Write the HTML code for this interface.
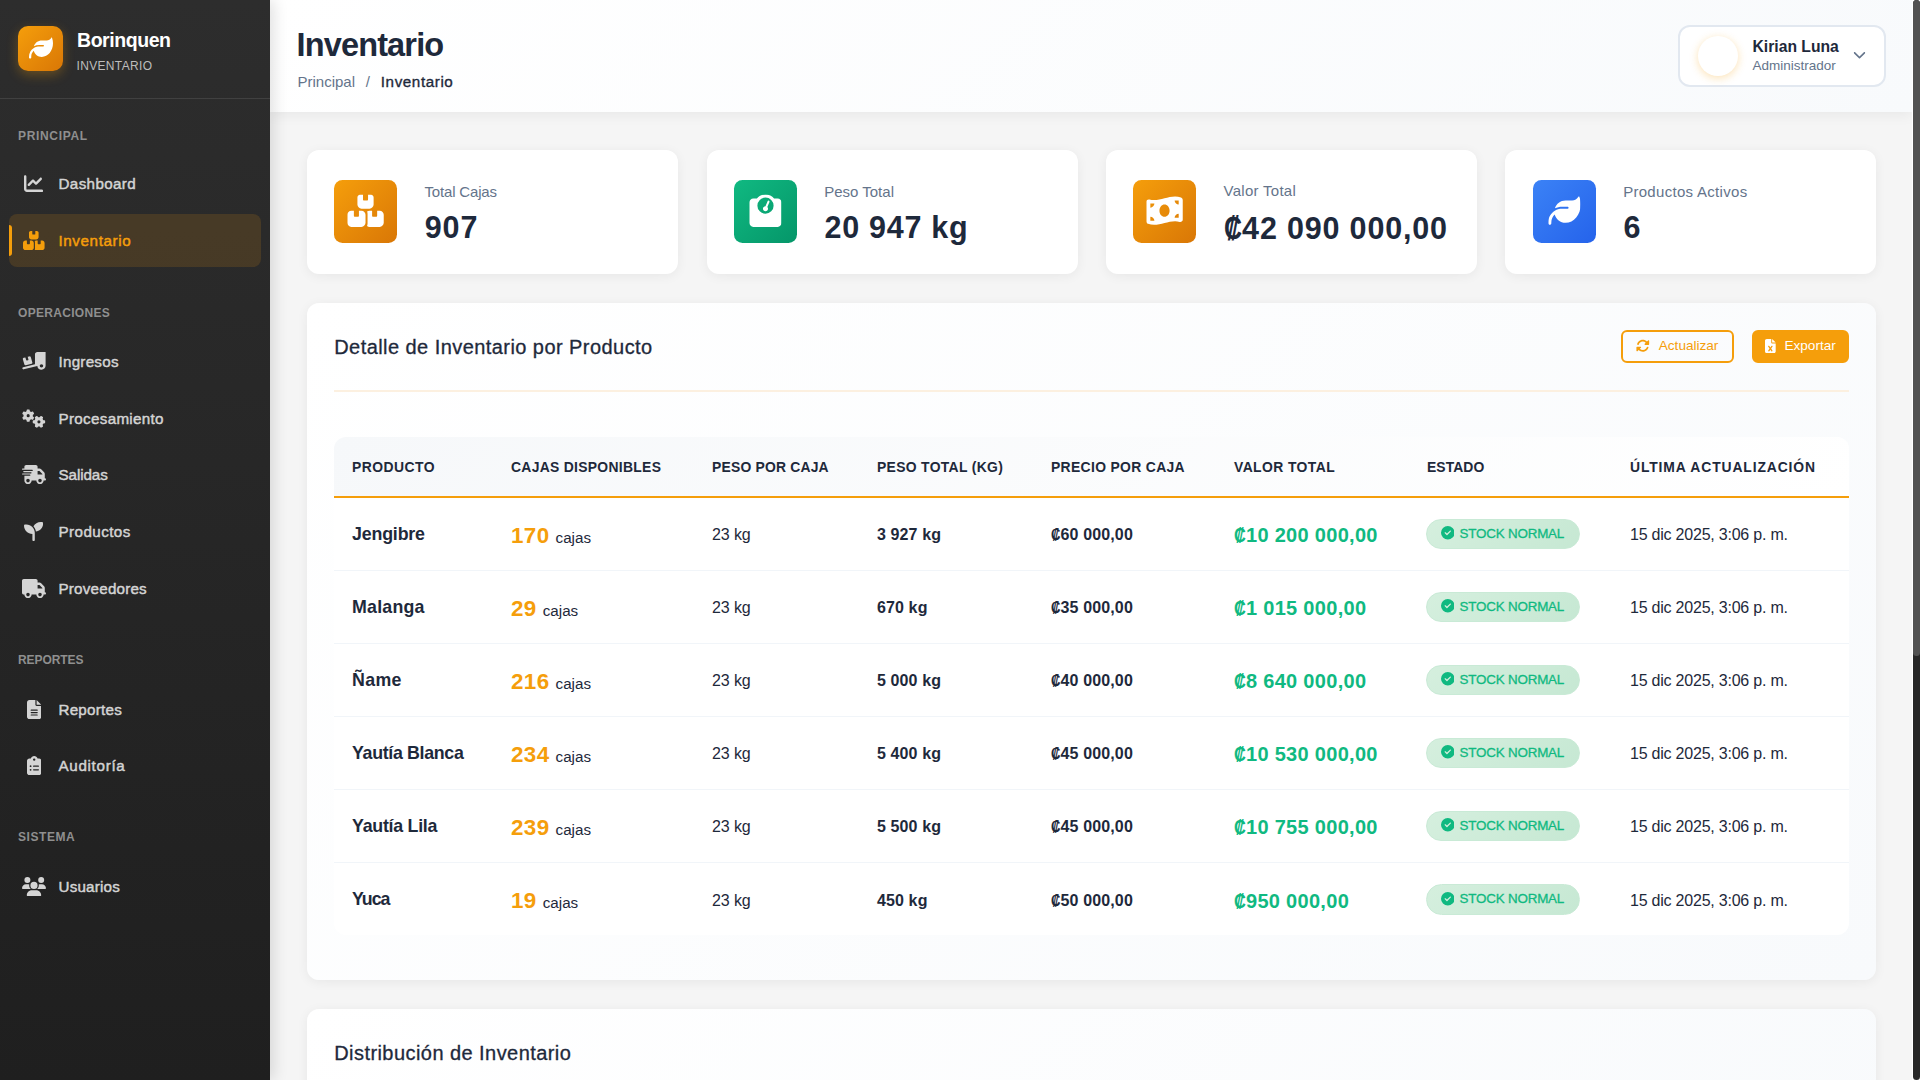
<!DOCTYPE html>
<html lang="es">
<head>
<meta charset="utf-8">
<title>Inventario - Borinquen</title>
<style>
*{box-sizing:border-box;margin:0;padding:0}
html,body{width:1920px;height:1080px;overflow:hidden}
body{font-family:"Liberation Sans",sans-serif;background:#f5f5f5;color:#1e293b;position:relative;font-size:16px}
svg{display:block}
/* ---------- sidebar ---------- */
.sb{position:absolute;left:0;top:0;width:270px;height:1080px;background:linear-gradient(180deg,#2d2d2d 0%,#1f1f1f 100%);box-shadow:4px 0 14px rgba(0,0,0,.12);z-index:5;color:#fff}
.sb-head{position:absolute;left:0;top:0;width:270px;height:99px;border-bottom:1px solid rgba(255,255,255,.1)}
.logo{position:absolute;left:18px;top:26px;width:45px;height:45px;border-radius:10px;background:linear-gradient(135deg,#f59e0b 0%,#d97706 100%);box-shadow:0 4px 12px rgba(245,158,11,.3)}
.logo svg{position:absolute;left:10.7px;top:10.3px;width:24px;height:24px}
.brand{position:absolute;left:77px;top:27px;font-size:19.5px;font-weight:700;line-height:26px;letter-spacing:-.44px;color:#fff;white-space:nowrap}
.brand-sub{position:absolute;left:76.5px;top:58.1px;font-size:12px;line-height:16px;letter-spacing:.34px;color:#bdbdbd;white-space:nowrap}
.sec{position:absolute;left:18px;font-size:12px;font-weight:700;line-height:16px;letter-spacing:.55px;color:#8f8f8f;white-space:nowrap}
.ni{position:absolute;left:9px;width:252px;height:53px;border-radius:8px;color:#d4d4d4}
.ni .ic{position:absolute;left:12.8px;top:0;width:24px;height:53px;display:flex;align-items:center;justify-content:center}
.ni .ic svg{height:19.2px;width:auto;fill:currentColor}
.ni .tx{position:absolute;left:49.5px;top:15.1px;font-size:15.2px;font-weight:400;line-height:24px;letter-spacing:0;white-space:nowrap;-webkit-text-stroke:.45px currentColor}
.ni.act{background:rgba(245,158,11,.14);color:#f59e0b}
.ni.act:before{content:"";position:absolute;left:0;top:10.6px;width:3px;height:31.8px;background:#f59e0b;border-radius:0 3px 3px 0}
/* ---------- header ---------- */
.hd{position:absolute;left:270px;top:0;width:1642px;height:112px;background:linear-gradient(135deg,#ffffff 0%,#f8fafc 100%);box-shadow:0 4px 12px rgba(0,0,0,.05);z-index:3}
.hd h1{position:absolute;left:26.5px;top:25px;font-size:32.5px;font-weight:700;line-height:40px;letter-spacing:-.85px;color:#1e293b;white-space:nowrap}
.bc{position:absolute;left:27.5px;top:71.7px;font-size:15px;line-height:20px;color:#64748b;white-space:nowrap}
.bc .sep{margin:0 10.8px 0 10.8px}
.bc b{color:#1e293b;font-weight:400;font-size:15.2px;letter-spacing:.59px;-webkit-text-stroke:.35px #1e293b}
.user{position:absolute;left:1408px;top:25px;width:208px;height:62px;border:2px solid #e2e8f0;border-radius:12px;background:#fff}
.avatar{position:absolute;left:18px;top:9px;width:40px;height:40px;border-radius:50%;background:#fff;box-shadow:0 2px 8px rgba(245,158,11,.3)}
.uname{position:absolute;left:72.5px;top:10px;font-size:15.7px;font-weight:700;line-height:20px;color:#1e293b;white-space:nowrap}
.urole{position:absolute;left:72.5px;top:30px;font-size:13.5px;line-height:18px;color:#64748b;white-space:nowrap}
.chev{position:absolute;left:173px;top:21.3px;width:13px;height:13px;fill:#64748b}
/* ---------- content ---------- */
.stat{position:absolute;top:150px;width:371px;height:124px;background:#fff;border-radius:12px;box-shadow:0 2px 12px rgba(0,0,0,.06)}
.stat .ib{position:absolute;left:27.2px;top:30px;width:63px;height:63px;border-radius:8.5px;display:flex;align-items:center;justify-content:center}
.stat .ib svg{height:32.4px;width:auto;fill:#fff;transform:translate(.3px,-.5px)}
.ib.or{background:linear-gradient(135deg,#f59e0b 0%,#d97706 100%)}
.ib.gr{background:linear-gradient(135deg,#10b981 0%,#059669 100%)}
.ib.bl{background:linear-gradient(135deg,#3b82f6 0%,#2563eb 100%)}
.stat .lb{position:absolute;left:117.7px;top:31.6px;font-size:15px;line-height:20px;color:#64748b;white-space:nowrap}
.stat .vl{position:absolute;left:118px;top:57.2px;font-size:30.5px;font-weight:700;line-height:40px;color:#1e293b;white-space:nowrap}
.s1 .lb{letter-spacing:-.17px}.s1 .vl{letter-spacing:.85px}.s2 .vl{letter-spacing:.72px}.s3 .lb{letter-spacing:.27px;top:30.6px}.s3 .vl{letter-spacing:.82px;top:58.1px}.s4 .lb{letter-spacing:.3px}
.card{position:absolute;left:307px;width:1569px;background:linear-gradient(135deg,#ffffff 0%,#f8fafc 100%);border-radius:12px;box-shadow:0 2px 12px rgba(0,0,0,.06)}
.card h2{position:absolute;left:27.2px;font-size:20px;font-weight:400;line-height:26px;letter-spacing:.44px;color:#1e293b;white-space:nowrap;-webkit-text-stroke:.3px #1e293b}
.hr{position:absolute;left:27px;top:87px;width:1515px;height:2px;background:#fcf0e0}
.btn{position:absolute;top:27px;height:33px;border:2px solid #f59e0b;border-radius:6px;font-size:13.6px;line-height:29px;color:#f59e0b;white-space:nowrap;letter-spacing:-.02px}
.btn svg{position:absolute;fill:currentColor}
.btn span{position:absolute;top:-.8px}
.btn.fill{background:#f59e0b;color:#fff}
/* table */
.tw{position:absolute;left:27px;top:134px;width:1515px;height:498px;background:#fff;border-radius:12px;overflow:hidden}
table{border-collapse:separate;border-spacing:0;table-layout:fixed;width:1515px}
th{height:61px;padding:1.2px 0 0 18px;text-align:left;font-size:13.9px;font-weight:700;letter-spacing:.3px;color:#1e293b;white-space:nowrap;border-bottom:2px solid #f59e0b}
thead tr{background:linear-gradient(135deg,#f6f8fa 0%,#ffffff 100%)}
td{height:73px;padding:2.5px 0 0 18px;font-size:16px;color:#1e293b;white-space:nowrap;border-bottom:1px solid #f1f5f9;vertical-align:middle}
tr:last-child td{border-bottom:none}
td.pn{font-size:17.8px;font-weight:700;letter-spacing:0;padding-top:0}
td .num{font-size:22.4px;font-weight:700;color:#f59e0b;letter-spacing:.4px}
td .un{font-size:15.2px;color:#1e293b;margin-left:6px}
td.b{font-weight:700;font-size:16px;padding-top:2.8px}
td.pt{letter-spacing:.12px}
td.pc{letter-spacing:.13px}
td.dt{letter-spacing:-.22px}
td.kg{letter-spacing:-.1px}
td.cj{padding-top:3.2px}
td.st{padding-top:0}
td.tv{font-weight:700;font-size:20px;color:#10b981;padding-top:3.5px;letter-spacing:.3px}
.bdg{display:inline-block;position:relative;left:-1px;width:154px;height:30.5px;border-radius:16px;background:linear-gradient(135deg,#d5efde 0%,#c6e8d3 100%);border:1px solid #c9ead6;vertical-align:middle}
.bdg svg{position:absolute;left:13.7px;top:6.7px;width:13.6px;height:13.6px;fill:#10b981}
.bdg span{position:absolute;left:32.6px;top:0;font-size:13.4px;line-height:28.5px;color:#10b981;-webkit-text-stroke:.3px #10b981;letter-spacing:-.2px}
.col{display:inline-block;transform:scaleX(.82);transform-origin:0 50%;margin-right:-.125em;letter-spacing:0}
/* scrollbar */
.sbw{position:absolute;left:1912px;top:0;width:8px;height:1080px;background:#fff;z-index:9}
.sbt{position:absolute;left:1px;top:0;width:7px;height:1080px;background:#272727;border-radius:4px}
.sbh{position:absolute;left:1px;top:0;width:7px;height:655.5px;background:#525252;border-radius:4px}
</style>
</head>
<body>
<aside class="sb">
  <div class="sb-head">
    <div class="logo"><svg viewBox="0 0 512 512"><path fill="#fff" d="M272 96c-78.600 0-145.100 51.500-167.700 122.500c33.600-17 71.500-26.500 111.700-26.500h88c8.800 0 16 7.200 16 16s-7.200 16-16 16H216c-16.600 0-32.700 1.900-48.300 5.400c-25.900 5.900-49.900 16.400-71.400 30.700C38.300 298.800 0 364.900 0 440v16c0 13.300 10.700 24 24 24s24-10.700 24-24V440c0-48.700 20.700-92.500 53.800-123.200C121.600 392.300 190.300 448 272 448l1 0c132.100-.7 239-130.900 239-291.400c0-42.600-7.500-83.100-21.100-119.600c-2.600-6.900-12.700-6.600-16.200-.1C455.900 72.100 418.700 96 376 96L272 96z"/></svg></div>
    <div class="brand">Borinquen</div>
    <div class="brand-sub">INVENTARIO</div>
  </div>
  <nav id="nav">
    <div class="sec" style="top:128.3px;letter-spacing:0.66px">PRINCIPAL</div>
    <div class="ni" style="top:157.25px"><span class="ic"><svg viewBox="0 0 512 512"><path fill-rule="evenodd" d="M64 64c0-17.700-14.300-32-32-32S0 46.300 0 64V400c0 44.200 35.800 80 80 80H480c17.700 0 32-14.300 32-32s-14.300-32-32-32H80c-8.800 0-16-7.200-16-16V64zm406.600 86.600c12.500-12.500 12.500-32.800 0-45.300s-32.800-12.500-45.300 0L320 210.700l-57.400-57.400c-12.500-12.500-32.800-12.500-45.300 0l-112 112c-12.500 12.500-12.500 32.800 0 45.300s32.800 12.500 45.300 0L240 221.300l57.400 57.400c12.500 12.500 32.800 12.500 45.300 0l128-128z"/></svg></span><span class="tx" style="letter-spacing:0.36px">Dashboard</span></div>
    <div class="ni act" style="top:214px"><span class="ic"><svg viewBox="0 0 576 512"><path fill-rule="evenodd" d="M248 0H208c-26.500 0-48 21.500-48 48V160c0 35.300 28.700 64 64 64H352c35.300 0 64-28.700 64-64V48c0-26.500-21.500-48-48-48H328V80c0 8.800-7.200 16-16 16H264c-8.800 0-16-7.200-16-16V0zM64 256c-35.300 0-64 28.700-64 64V448c0 35.300 28.700 64 64 64H224c35.300 0 64-28.700 64-64V320c0-35.300-28.700-64-64-64H184v80c0 8.800-7.200 16-16 16H120c-8.800 0-16-7.200-16-16V256H64zM352 512H512c35.300 0 64-28.700 64-64V320c0-35.300-28.700-64-64-64H472v80c0 8.800-7.200 16-16 16H408c-8.800 0-16-7.200-16-16V256H352c-15 0-28.800 5.100-39.700 13.800c4.900 10.400 7.700 22 7.700 34.200V464c0 12.200-2.800 23.800-7.700 34.200C323.200 506.900 337 512 352 512z"/></svg></span><span class="tx" style="letter-spacing:0.6px">Inventario</span></div>
    <div class="sec" style="top:305.2px;letter-spacing:0.31px">OPERACIONES</div>
    <div class="ni" style="top:334.75px"><span class="ic"><svg viewBox="0 0 640 512" preserveAspectRatio="none" style="width:23.6px;height:17.7px"><path fill-rule="evenodd" d="M640 0V400c0 61.900-50.100 112-112 112c-61 0-110.500-48.700-112-109.300L48.400 502.900c-17.100 4.600-34.600-5.400-39.300-22.500s5.400-34.600 22.500-39.300L352 353.800V64c0-35.300 28.700-64 64-64H640zM576 400a48 48 0 1 0 -96 0 48 48 0 1 0 96 0zM23.100 207.700c-4.600-17.100 5.600-34.600 22.600-39.200l46.400-12.400 20.700 77.300c2.300 8.500 11.100 13.600 19.600 11.300l30.900-8.300c8.500-2.300 13.600-11.100 11.300-19.600l-20.700-77.300 46.400-12.400c17.100-4.600 34.600 5.600 39.200 22.600l41.400 154.500c4.600 17.100-5.600 34.600-22.600 39.200L103.700 384.900c-17.100 4.600-34.600-5.600-39.200-22.600L23.100 207.700z"/></svg></span><span class="tx" style="letter-spacing:0.25px">Ingresos</span></div>
    <div class="ni" style="top:391.5px"><span class="ic"><svg viewBox="0 0 640 512"><path fill-rule="evenodd" d="M289 204 L289 209 L289 215 L288 220 L292 226 L301 234 L313 244 L321 253 L321 261 L318 268 L315 274 L312 281 L309 287 L305 293 L301 299 L297 305 L292 311 L285 314 L273 312 L259 307 L248 303 L241 303 L236 306 L232 309 L227 311 L222 314 L217 316 L213 319 L209 325 L207 337 L205 352 L200 363 L194 367 L187 369 L179 369 L172 370 L165 370 L158 370 L151 369 L143 369 L136 367 L130 363 L125 352 L123 337 L121 325 L117 319 L113 316 L108 314 L103 311 L98 309 L94 306 L89 303 L82 303 L71 307 L57 312 L45 314 L38 311 L33 305 L29 299 L25 293 L21 287 L18 281 L15 274 L12 268 L9 261 L9 253 L17 244 L29 234 L38 226 L42 220 L41 215 L41 209 L41 204 L41 199 L41 193 L42 188 L38 182 L29 174 L17 164 L9 155 L9 147 L12 140 L15 134 L18 127 L21 121 L25 115 L29 109 L33 103 L38 97 L45 94 L57 96 L71 101 L82 105 L89 105 L94 102 L98 99 L103 97 L108 94 L113 92 L117 89 L121 83 L123 71 L125 56 L130 45 L136 41 L143 39 L151 39 L158 38 L165 38 L172 38 L179 39 L187 39 L194 41 L200 45 L205 56 L207 71 L209 83 L213 89 L217 92 L222 94 L227 97 L232 99 L236 102 L241 105 L248 105 L259 101 L273 96 L285 94 L292 97 L297 103 L301 109 L305 115 L309 121 L312 127 L315 134 L318 140 L321 147 L321 155 L313 164 L301 174 L292 182 L288 188 L289 193 L289 199ZM123 204a42 42 0 1 0 84 0a42 42 0 1 0 -84 0ZM618 369 L618 376 L617 383 L617 391 L615 398 L611 404 L600 409 L585 411 L573 413 L567 417 L564 421 L562 426 L559 431 L557 436 L554 440 L551 445 L551 452 L555 463 L560 477 L562 489 L559 496 L553 501 L547 505 L541 509 L535 513 L529 516 L522 519 L516 522 L509 525 L501 525 L492 517 L482 505 L474 496 L468 492 L463 493 L457 493 L452 493 L447 493 L441 493 L436 492 L430 496 L422 505 L412 517 L403 525 L395 525 L388 522 L382 519 L375 516 L369 513 L363 509 L357 505 L351 501 L345 496 L342 489 L344 477 L349 463 L353 452 L353 445 L350 440 L347 436 L345 431 L342 426 L340 421 L337 417 L331 413 L319 411 L304 409 L293 404 L289 398 L287 391 L287 383 L286 376 L286 369 L286 362 L287 355 L287 347 L289 340 L293 334 L304 329 L319 327 L331 325 L337 321 L340 317 L342 312 L345 307 L347 302 L350 298 L353 293 L353 286 L349 275 L344 261 L342 249 L345 242 L351 237 L357 233 L363 229 L369 225 L375 222 L382 219 L388 216 L395 213 L403 213 L412 221 L422 233 L430 242 L436 246 L441 245 L447 245 L452 245 L457 245 L463 245 L468 246 L474 242 L482 233 L492 221 L501 213 L509 213 L516 216 L522 219 L529 222 L535 225 L541 229 L547 233 L553 237 L559 242 L562 249 L560 261 L555 275 L551 286 L551 293 L554 298 L557 302 L559 307 L562 312 L564 317 L567 321 L573 325 L585 327 L600 329 L611 334 L615 340 L617 347 L617 355 L618 362ZM410 369a42 42 0 1 0 84 0a42 42 0 1 0 -84 0Z"/></svg></span><span class="tx" style="letter-spacing:0.31px">Procesamiento</span></div>
    <div class="ni" style="top:448.25px"><span class="ic"><svg viewBox="0 0 640 512"><path fill-rule="evenodd" d="M112 0C85.500 0 64 21.500 64 48V96H16c-8.800 0-16 7.200-16 16s7.200 16 16 16H64 272c8.800 0 16 7.200 16 16s-7.200 16-16 16H64 48c-8.800 0-16 7.200-16 16s7.200 16 16 16H64 240c8.800 0 16 7.200 16 16s-7.200 16-16 16H64 16c-8.800 0-16 7.200-16 16s7.200 16 16 16H64 208c8.800 0 16 7.200 16 16s-7.200 16-16 16H64V416c0 53 43 96 96 96s96-43 96-96H384c0 53 43 96 96 96s96-43 96-96h32c17.700 0 32-14.300 32-32s-14.300-32-32-32V288 256 237.300c0-17-6.700-33.300-18.700-45.300L512 114.700c-12-12-28.300-18.700-45.300-18.700H416V48c0-26.500-21.500-48-48-48H112zM544 237.300V256H416V160h50.700L544 237.300zM160 368a48 48 0 1 1 0 96 48 48 0 1 1 0-96zm272 48a48 48 0 1 1 96 0 48 48 0 1 1 -96 0z"/></svg></span><span class="tx" style="letter-spacing:-0.09px">Salidas</span></div>
    <div class="ni" style="top:505px"><span class="ic"><svg viewBox="0 0 512 512"><path fill-rule="evenodd" d="M512 32c0 113.600-84.600 207.500-194.200 222c-7.100-53.400-30.600-101.600-65.300-139.300C290.800 46.300 364 0 448 0h32c17.700 0 32 14.300 32 32zM0 96C0 78.300 14.300 64 32 64H64c123.700 0 224 100.300 224 224v32V480c0 17.700-14.300 32-32 32s-32-14.300-32-32V320C100.300 320 0 219.700 0 96z"/></svg></span><span class="tx" style="letter-spacing:0.42px">Productos</span></div>
    <div class="ni" style="top:561.75px"><span class="ic"><svg viewBox="0 0 640 512"><path fill-rule="evenodd" d="M48 0C21.500 0 0 21.500 0 48V368c0 26.500 21.500 48 48 48H64c0 53 43 96 96 96s96-43 96-96H384c0 53 43 96 96 96s96-43 96-96h32c17.700 0 32-14.300 32-32s-14.300-32-32-32V288 256 237.300c0-17-6.700-33.300-18.700-45.300L512 114.700c-12-12-28.300-18.700-45.300-18.700H416V48c0-26.500-21.500-48-48-48H48zM416 160h50.700L544 237.300V256H416V160zM112 416a48 48 0 1 1 96 0 48 48 0 1 1 -96 0zm368-48a48 48 0 1 1 0 96 48 48 0 1 1 0-96z"/></svg></span><span class="tx" style="letter-spacing:0.21px">Proveedores</span></div>
    <div class="sec" style="top:652.2px;letter-spacing:-0.07px">REPORTES</div>
    <div class="ni" style="top:682.7px"><span class="ic"><svg viewBox="0 0 384 512"><path fill-rule="evenodd" d="M64 0C28.700 0 0 28.700 0 64V448c0 35.300 28.700 64 64 64H320c35.300 0 64-28.700 64-64V160H256c-17.700 0-32-14.300-32-32V0H64zM256 0V128H384L256 0zM112 256H272c8.800 0 16 7.200 16 16s-7.200 16-16 16H112c-8.800 0-16-7.200-16-16s7.200-16 16-16zm0 64H272c8.800 0 16 7.200 16 16s-7.200 16-16 16H112c-8.800 0-16-7.200-16-16s7.200-16 16-16zm0 64H272c8.800 0 16 7.200 16 16s-7.200 16-16 16H112c-8.800 0-16-7.200-16-16s7.200-16 16-16z"/></svg></span><span class="tx" style="letter-spacing:0.23px">Reportes</span></div>
    <div class="ni" style="top:739.2px"><span class="ic"><svg viewBox="0 0 384 512"><path fill-rule="evenodd" d="M192 0c-41.800 0-77.400 26.700-90.500 64H64C28.700 64 0 92.700 0 128V448c0 35.300 28.700 64 64 64H320c35.300 0 64-28.700 64-64V128c0-35.300-28.700-64-64-64H282.500C269.400 26.700 233.800 0 192 0zm0 64a32 32 0 1 1 0 64 32 32 0 1 1 0-64zM72 272a24 24 0 1 1 48 0 24 24 0 1 1 -48 0zm104-16H304c8.800 0 16 7.200 16 16s-7.200 16-16 16H176c-8.800 0-16-7.200-16-16s7.200-16 16-16zM72 368a24 24 0 1 1 48 0 24 24 0 1 1 -48 0zm88 0c0-8.800 7.200-16 16-16H304c8.800 0 16 7.200 16 16s-7.200 16-16 16H176c-8.800 0-16-7.200-16-16z"/></svg></span><span class="tx" style="letter-spacing:0.68px">Auditoría</span></div>
    <div class="sec" style="top:829.3px;letter-spacing:0.57px">SISTEMA</div>
    <div class="ni" style="top:859.65px"><span class="ic"><svg viewBox="0 0 640 512"><path fill-rule="evenodd" d="M144 0a80 80 0 1 1 0 160A80 80 0 1 1 144 0zM512 0a80 80 0 1 1 0 160A80 80 0 1 1 512 0zM0 298.700C0 239.800 47.800 192 106.700 192h42.700c15.900 0 31 3.500 44.600 9.700c-1.300 7.200-1.900 14.700-1.900 22.300c0 38.200 16.800 72.500 43.300 96c-.2 0-.4 0-.7 0H21.300C9.600 320 0 310.400 0 298.700zM405.300 320c-.2 0-.4 0-.7 0c26.600-23.500 43.300-57.800 43.300-96c0-7.600-.7-15-1.900-22.300c13.600-6.300 28.700-9.700 44.600-9.700h42.700C592.200 192 640 239.800 640 298.700c0 11.800-9.600 21.300-21.300 21.300H405.300zM224 224a96 96 0 1 1 192 0 96 96 0 1 1 -192 0zM128 485.300C128 411.700 187.700 352 261.300 352H378.700C452.300 352 512 411.700 512 485.300c0 14.700-11.900 26.700-26.700 26.700H154.700c-14.700 0-26.700-11.900-26.700-26.700z"/></svg></span><span class="tx" style="letter-spacing:0.19px">Usuarios</span></div>
  </nav>
</aside>
<header class="hd">
  <h1>Inventario</h1>
  <div class="bc">Principal<span class="sep">/</span><b>Inventario</b></div>
  <div class="user">
    <div class="avatar"></div>
    <div class="uname">Kirian Luna</div>
    <div class="urole">Administrador</div>
    <svg class="chev" viewBox="0 0 512 512"><path d="M233.400 406.600c12.500 12.500 32.800 12.500 45.300 0l192-192c12.500-12.500 12.500-32.800 0-45.300s-32.800-12.500-45.300 0L256 338.700 86.600 169.400c-12.500-12.500-32.800-12.500-45.300 0s-12.500 32.800 0 45.300l192 192z"/></svg>
  </div>
</header>
<main id="main">
  <div class="stat s1" style="left:306.8px"><div class="ib or"><svg viewBox="0 0 576 512"><path d="M248 0H208c-26.500 0-48 21.500-48 48V160c0 35.300 28.700 64 64 64H352c35.300 0 64-28.700 64-64V48c0-26.500-21.500-48-48-48H328V80c0 8.800-7.200 16-16 16H264c-8.800 0-16-7.200-16-16V0zM64 256c-35.300 0-64 28.700-64 64V448c0 35.300 28.700 64 64 64H224c35.300 0 64-28.700 64-64V320c0-35.300-28.700-64-64-64H184v80c0 8.800-7.200 16-16 16H120c-8.800 0-16-7.200-16-16V256H64zM352 512H512c35.300 0 64-28.700 64-64V320c0-35.300-28.700-64-64-64H472v80c0 8.800-7.200 16-16 16H408c-8.800 0-16-7.200-16-16V256H352c-15 0-28.800 5.100-39.700 13.800c4.900 10.400 7.700 22 7.700 34.200V464c0 12.200-2.800 23.800-7.700 34.200C323.200 506.900 337 512 352 512z"/></svg></div><div class="lb">Total Cajas</div><div class="vl">907</div></div>
  <div class="stat s2" style="left:706.5px"><div class="ib gr"><svg viewBox="0 0 512 512"><path d="M128 176a128 128 0 1 1 256 0 128 128 0 1 1 -256 0zM391.800 64C359.500 24.900 310.700 0 256 0S152.500 24.900 120.200 64H64C28.700 64 0 92.700 0 128V448c0 35.300 28.700 64 64 64H448c35.300 0 64-28.700 64-64V128c0-35.300-28.700-64-64-64H391.800zM296 224c0-10.600-4.100-20.200-10.900-27.400l33.600-78.300c3.500-8.100-.3-17.500-8.400-21s-17.500 .3-21 8.400L255.700 184c-22 .1-39.700 18-39.700 40c0 22.100 17.900 40 40 40s40-17.900 40-40z"/></svg></div><div class="lb">Peso Total</div><div class="vl">20 947 kg</div></div>
  <div class="stat s3" style="left:1105.9px"><div class="ib or"><svg viewBox="0 0 576 512"><path d="M0 112.500V422.300c0 18 10.100 35 27 41.300c87 32.500 174 10.300 261-11.900c79.800-20.300 159.600-40.700 239.300-18.900c23 6.300 48.700-9.500 48.700-33.400V89.700c0-18-10.100-35-27-41.300C462 15.900 375 38.100 288 60.300C208.200 80.600 128.400 100.900 48.700 79.100C25.600 72.800 0 88.600 0 112.500zM288 352c-44.200 0-80-43-80-96s35.800-96 80-96s80 43 80 96s-35.800 96-80 96zM64 352c35.300 0 64 28.700 64 64H64V352zm64-208c0 35.300-28.700 64-64 64V144h64zM512 304v64H448c0-35.300 28.700-64 64-64zM448 96h64v64c-35.300 0-64-28.700-64-64z"/></svg></div><div class="lb">Valor Total</div><div class="vl"><span class="col">₡</span>42 090 000,00</div></div>
  <div class="stat s4" style="left:1505.45px"><div class="ib bl"><svg viewBox="0 0 512 512"><path d="M272 96c-78.600 0-145.100 51.500-167.700 122.500c33.600-17 71.500-26.500 111.700-26.500h88c8.800 0 16 7.200 16 16s-7.200 16-16 16H216c-16.600 0-32.700 1.900-48.300 5.400c-25.900 5.900-49.900 16.400-71.400 30.700C38.300 298.800 0 364.900 0 440v16c0 13.300 10.700 24 24 24s24-10.700 24-24V440c0-48.700 20.700-92.500 53.800-123.200C121.600 392.300 190.300 448 272 448l1 0c132.100-.7 239-130.900 239-291.400c0-42.600-7.500-83.100-21.100-119.600c-2.600-6.900-12.700-6.600-16.200-.1C455.900 72.100 418.700 96 376 96L272 96z"/></svg></div><div class="lb">Productos Activos</div><div class="vl">6</div></div>
  <section class="card c1" style="top:303px;height:677px">
    <h2 style="top:31px">Detalle de Inventario por Producto</h2>
    <div class="btn" style="left:1314px;width:113px"><svg viewBox="0 0 512 512" style="left:13.1px;top:6.6px;width:13.6px;height:13.6px"><path d="M142.900 142.900c62.200-62.200 162.700-62.500 225.300-1L327 183c-6.900 6.900-8.900 17.200-5.200 26.200s12.500 14.800 22.200 14.800H472c13.300 0 24-10.700 24-24V72c0-9.700-5.800-18.500-14.800-22.200s-19.300-1.700-26.200 5.200L413.400 96.600c-87.600-86.500-228.700-86.200-315.800 1C73.200 122 55.600 150.700 44.800 181.400c-5.900 16.700 2.900 34.900 19.500 40.800s34.900-2.900 40.800-19.500c7.700-21.800 20.200-42.300 37.800-59.800zM16 312V440c0 9.700 5.800 18.500 14.800 22.200s19.300 1.700 26.200-5.200l41.600-41.600c87.600 86.500 228.700 86.200 315.800-1c24.400-24.400 42.100-53.100 52.900-83.700c5.900-16.700-2.900-34.900-19.500-40.800s-34.900 2.900-40.800 19.500c-7.700 21.800-20.200 42.300-37.800 59.800c-62.200 62.200-162.700 62.500-225.300 1L185 329c6.900-6.900 8.900-17.200 5.200-26.200s-12.500-14.800-22.200-14.800H40c-13.300 0-24 10.700-24 24z"/></svg><span style="left:35.8px">Actualizar</span></div>
    <div class="btn fill" style="left:1445px;width:97px"><svg viewBox="0 0 384 512" style="left:11px;top:6.6px;width:10.7px;height:14.3px"><path fill-rule="evenodd" d="M64 0C28.700 0 0 28.700 0 64V448c0 35.300 28.700 64 64 64H320c35.300 0 64-28.700 64-64V160H256c-17.700 0-32-14.300-32-32V0H64zM256 0V128H384L256 0zM155.700 250.200L192 302.100l36.300-51.900c7.600-10.900 22.600-13.500 33.400-5.900s13.500 22.600 5.900 33.400L221.300 344l46.400 66.200c7.600 10.900 5 25.800-5.900 33.400s-25.800 5-33.400-5.900L192 385.800l-36.300 51.900c-7.600 10.900-22.600 13.500-33.400 5.900s-13.500-22.600-5.900-33.400L162.700 344l-46.400-66.200c-7.600-10.900-5-25.800 5.900-33.400s25.800-5 33.400 5.900z"/></svg><span style="left:30.5px">Exportar</span></div>
    <div class="hr"></div>
    <div class="tw"><table>
      <colgroup><col style="width:159px"><col style="width:201px"><col style="width:165px"><col style="width:174px"><col style="width:183px"><col style="width:193px"><col style="width:203px"><col style="width:237px"></colgroup>
      <thead><tr><th style="letter-spacing:0.48px">PRODUCTO</th><th style="letter-spacing:0.30px">CAJAS DISPONIBLES</th><th style="letter-spacing:0.20px">PESO POR CAJA</th><th style="letter-spacing:0.33px">PESO TOTAL (KG)</th><th style="letter-spacing:0.34px">PRECIO POR CAJA</th><th style="letter-spacing:0.42px">VALOR TOTAL</th><th style="letter-spacing:0.09px">ESTADO</th><th style="letter-spacing:0.87px">ÚLTIMA ACTUALIZACIÓN</th></tr></thead>
      <tbody>
        <tr><td class="pn" style="letter-spacing:-0.16px">Jengibre</td><td class="cj"><span class="num">170</span><span class="un">cajas</span></td><td class="kg">23 kg</td><td class="b pt">3 927 kg</td><td class="b pc"><span class="col">₡</span>60 000,00</td><td class="tv"><span class="col">₡</span>10 200 000,00</td><td class="st"><span class="bdg"><svg viewBox="0 0 512 512"><path d="M256 512A256 256 0 1 0 256 0a256 256 0 1 0 0 512zM369 209L241 337c-9.400 9.400-24.600 9.400-33.900 0l-64-64c-9.400-9.400-9.400-24.600 0-33.900s24.600-9.400 33.900 0l47 47L335 175c9.400-9.400 24.600-9.400 33.900 0s9.400 24.600 0 33.900z"/></svg><span>STOCK NORMAL</span></span></td><td class="dt">15 dic 2025, 3:06 p. m.</td></tr>
        <tr><td class="pn" style="letter-spacing:0.22px">Malanga</td><td class="cj"><span class="num">29</span><span class="un">cajas</span></td><td class="kg">23 kg</td><td class="b pt">670 kg</td><td class="b pc"><span class="col">₡</span>35 000,00</td><td class="tv"><span class="col">₡</span>1 015 000,00</td><td class="st"><span class="bdg"><svg viewBox="0 0 512 512"><path d="M256 512A256 256 0 1 0 256 0a256 256 0 1 0 0 512zM369 209L241 337c-9.400 9.400-24.600 9.400-33.900 0l-64-64c-9.400-9.400-9.400-24.600 0-33.900s24.600-9.400 33.900 0l47 47L335 175c9.400-9.400 24.600-9.400 33.900 0s9.400 24.600 0 33.900z"/></svg><span>STOCK NORMAL</span></span></td><td class="dt">15 dic 2025, 3:06 p. m.</td></tr>
        <tr><td class="pn" style="letter-spacing:0.35px">Ñame</td><td class="cj"><span class="num">216</span><span class="un">cajas</span></td><td class="kg">23 kg</td><td class="b pt">5 000 kg</td><td class="b pc"><span class="col">₡</span>40 000,00</td><td class="tv"><span class="col">₡</span>8 640 000,00</td><td class="st"><span class="bdg"><svg viewBox="0 0 512 512"><path d="M256 512A256 256 0 1 0 256 0a256 256 0 1 0 0 512zM369 209L241 337c-9.400 9.400-24.600 9.400-33.900 0l-64-64c-9.400-9.400-9.400-24.600 0-33.900s24.600-9.400 33.900 0l47 47L335 175c9.400-9.400 24.600-9.400 33.900 0s9.400 24.600 0 33.900z"/></svg><span>STOCK NORMAL</span></span></td><td class="dt">15 dic 2025, 3:06 p. m.</td></tr>
        <tr><td class="pn" style="letter-spacing:-0.32px">Yautía Blanca</td><td class="cj"><span class="num">234</span><span class="un">cajas</span></td><td class="kg">23 kg</td><td class="b pt">5 400 kg</td><td class="b pc"><span class="col">₡</span>45 000,00</td><td class="tv"><span class="col">₡</span>10 530 000,00</td><td class="st"><span class="bdg"><svg viewBox="0 0 512 512"><path d="M256 512A256 256 0 1 0 256 0a256 256 0 1 0 0 512zM369 209L241 337c-9.400 9.400-24.600 9.400-33.900 0l-64-64c-9.400-9.400-9.400-24.600 0-33.900s24.600-9.400 33.900 0l47 47L335 175c9.400-9.400 24.600-9.400 33.900 0s9.400 24.600 0 33.900z"/></svg><span>STOCK NORMAL</span></span></td><td class="dt">15 dic 2025, 3:06 p. m.</td></tr>
        <tr><td class="pn" style="letter-spacing:-0.25px">Yautía Lila</td><td class="cj"><span class="num">239</span><span class="un">cajas</span></td><td class="kg">23 kg</td><td class="b pt">5 500 kg</td><td class="b pc"><span class="col">₡</span>45 000,00</td><td class="tv"><span class="col">₡</span>10 755 000,00</td><td class="st"><span class="bdg"><svg viewBox="0 0 512 512"><path d="M256 512A256 256 0 1 0 256 0a256 256 0 1 0 0 512zM369 209L241 337c-9.400 9.400-24.600 9.400-33.900 0l-64-64c-9.400-9.400-9.400-24.600 0-33.900s24.600-9.400 33.900 0l47 47L335 175c9.400-9.400 24.600-9.400 33.900 0s9.400 24.600 0 33.900z"/></svg><span>STOCK NORMAL</span></span></td><td class="dt">15 dic 2025, 3:06 p. m.</td></tr>
        <tr><td class="pn" style="letter-spacing:-1.04px">Yuca</td><td class="cj"><span class="num">19</span><span class="un">cajas</span></td><td class="kg">23 kg</td><td class="b pt">450 kg</td><td class="b pc"><span class="col">₡</span>50 000,00</td><td class="tv"><span class="col">₡</span>950 000,00</td><td class="st"><span class="bdg"><svg viewBox="0 0 512 512"><path d="M256 512A256 256 0 1 0 256 0a256 256 0 1 0 0 512zM369 209L241 337c-9.400 9.400-24.600 9.400-33.900 0l-64-64c-9.400-9.400-9.400-24.600 0-33.900s24.600-9.400 33.900 0l47 47L335 175c9.400-9.400 24.600-9.400 33.900 0s9.400 24.600 0 33.900z"/></svg><span>STOCK NORMAL</span></span></td><td class="dt">15 dic 2025, 3:06 p. m.</td></tr>
      </tbody>
    </table></div>
  </section>
  <section class="card c2" style="top:1009px;height:200px">
    <h2 style="top:31px">Distribución de Inventario</h2>
  </section>
</main>
<div class="sbw"><div class="sbt"></div><div class="sbh"></div></div>
</body>
</html>
